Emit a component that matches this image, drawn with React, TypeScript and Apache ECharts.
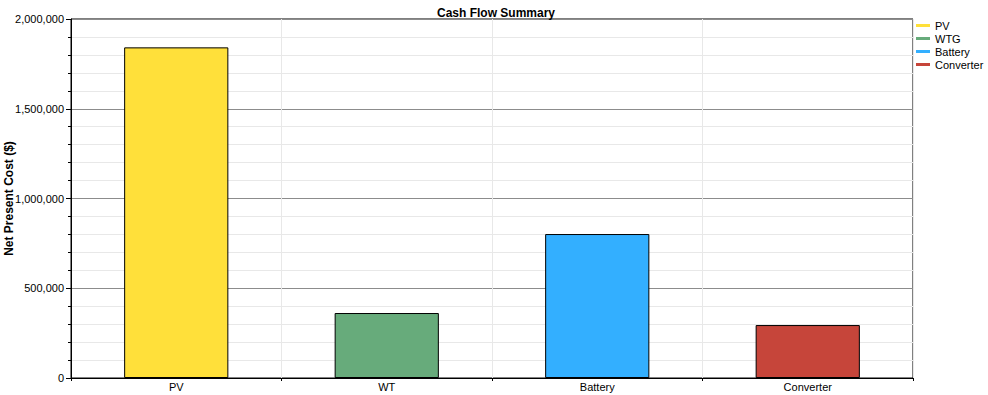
import React, { useEffect, useRef } from "react";
import * as echarts from "echarts";

const categories = ["PV", "WT", "Battery", "Converter"];
const seriesNames = ["PV", "WTG", "Battery", "Converter"];
const values = [1842000, 362000, 802000, 295000];
const colors = ["#FFE03A", "#67AB7B", "#33AFFF", "#C6453A"];
const yTicks = [0, 500000, 1000000, 1500000, 2000000];

const FONT = "Liberation Sans, Arial, sans-serif";

export default function App() {
  const ref = useRef<HTMLDivElement>(null);
  useEffect(() => {
    if (!ref.current) return;
    const chart = echarts.init(ref.current, undefined, { renderer: "svg" });
    const series = seriesNames.map((name, i) => ({
      name,
      type: "bar",
      stack: "all",
      barWidth: "49.5%",
      itemStyle: { color: colors[i], borderColor: "#000", borderWidth: 1 },
      data: categories.map((_, j) => (j === i ? values[i] : "-")),
    }));
    chart.setOption({
      animation: false,
      title: {
        text: "Cash Flow Summary",
        left: 491,
        textAlign: "center",
        top: 2,
        textStyle: { fontFamily: FONT, fontSize: 12, fontWeight: "bold", color: "#000" },
      },
      legend: {
        orient: "vertical",
        left: 911,
        top: 14,
        itemWidth: 14,
        itemHeight: 3,
        itemGap: 0,
        icon: "rect",
        data: seriesNames,
        itemStyle: { borderWidth: 0 },
        textStyle: { fontFamily: FONT, fontSize: 11, color: "#000", lineHeight: 13 },
      },
      grid: {
        left: 71,
        right: 75,
        top: 19,
        bottom: 17,
        show: true,
        borderColor: "#000",
        borderWidth: 1,
        containLabel: false,
        outerBoundsMode: "none",
      },
      xAxis: {
        type: "category",
        data: categories,
        axisLine: { lineStyle: { color: "#000", width: 1 } },
        axisTick: { show: true, length: 3, lineStyle: { color: "#000" } },
        axisLabel: { fontFamily: FONT, fontSize: 11, color: "#000", margin: 3 },
        splitLine: { show: true, lineStyle: { color: "#E8E8E8" } },
      },
      yAxis: {
        type: "value",
        min: yTicks[0],
        max: yTicks[yTicks.length - 1],
        interval: 500000,
        name: "Net Present Cost ($)",
        nameLocation: "middle",
        nameGap: 56,
        nameMoveOverlap: false,
        nameRotate: 90,
        nameTextStyle: { fontFamily: FONT, fontSize: 12, fontWeight: "bold", color: "#000" },
        axisLine: { show: true, lineStyle: { color: "#000", width: 1 } },
        axisTick: { show: true, length: 5, lineStyle: { color: "#000" } },
        minorTick: { show: true, splitNumber: 5, length: 3, lineStyle: { color: "#000" } },
        axisLabel: {
          fontFamily: FONT,
          fontSize: 11,
          color: "#000",
          margin: 7,
          formatter: (v: number) => v.toLocaleString("en-US"),
        },
        splitLine: { show: true, lineStyle: { color: "#8C8C8C", width: 1 } },
        minorSplitLine: { show: true, lineStyle: { color: "#E8E8E8", width: 1 } },
      },
      series,
    });
    return () => chart.dispose();
  }, []);
  return <div ref={ref} style={{ width: 988, height: 395, position: "absolute", left: 0, top: 0 }} />;
}
